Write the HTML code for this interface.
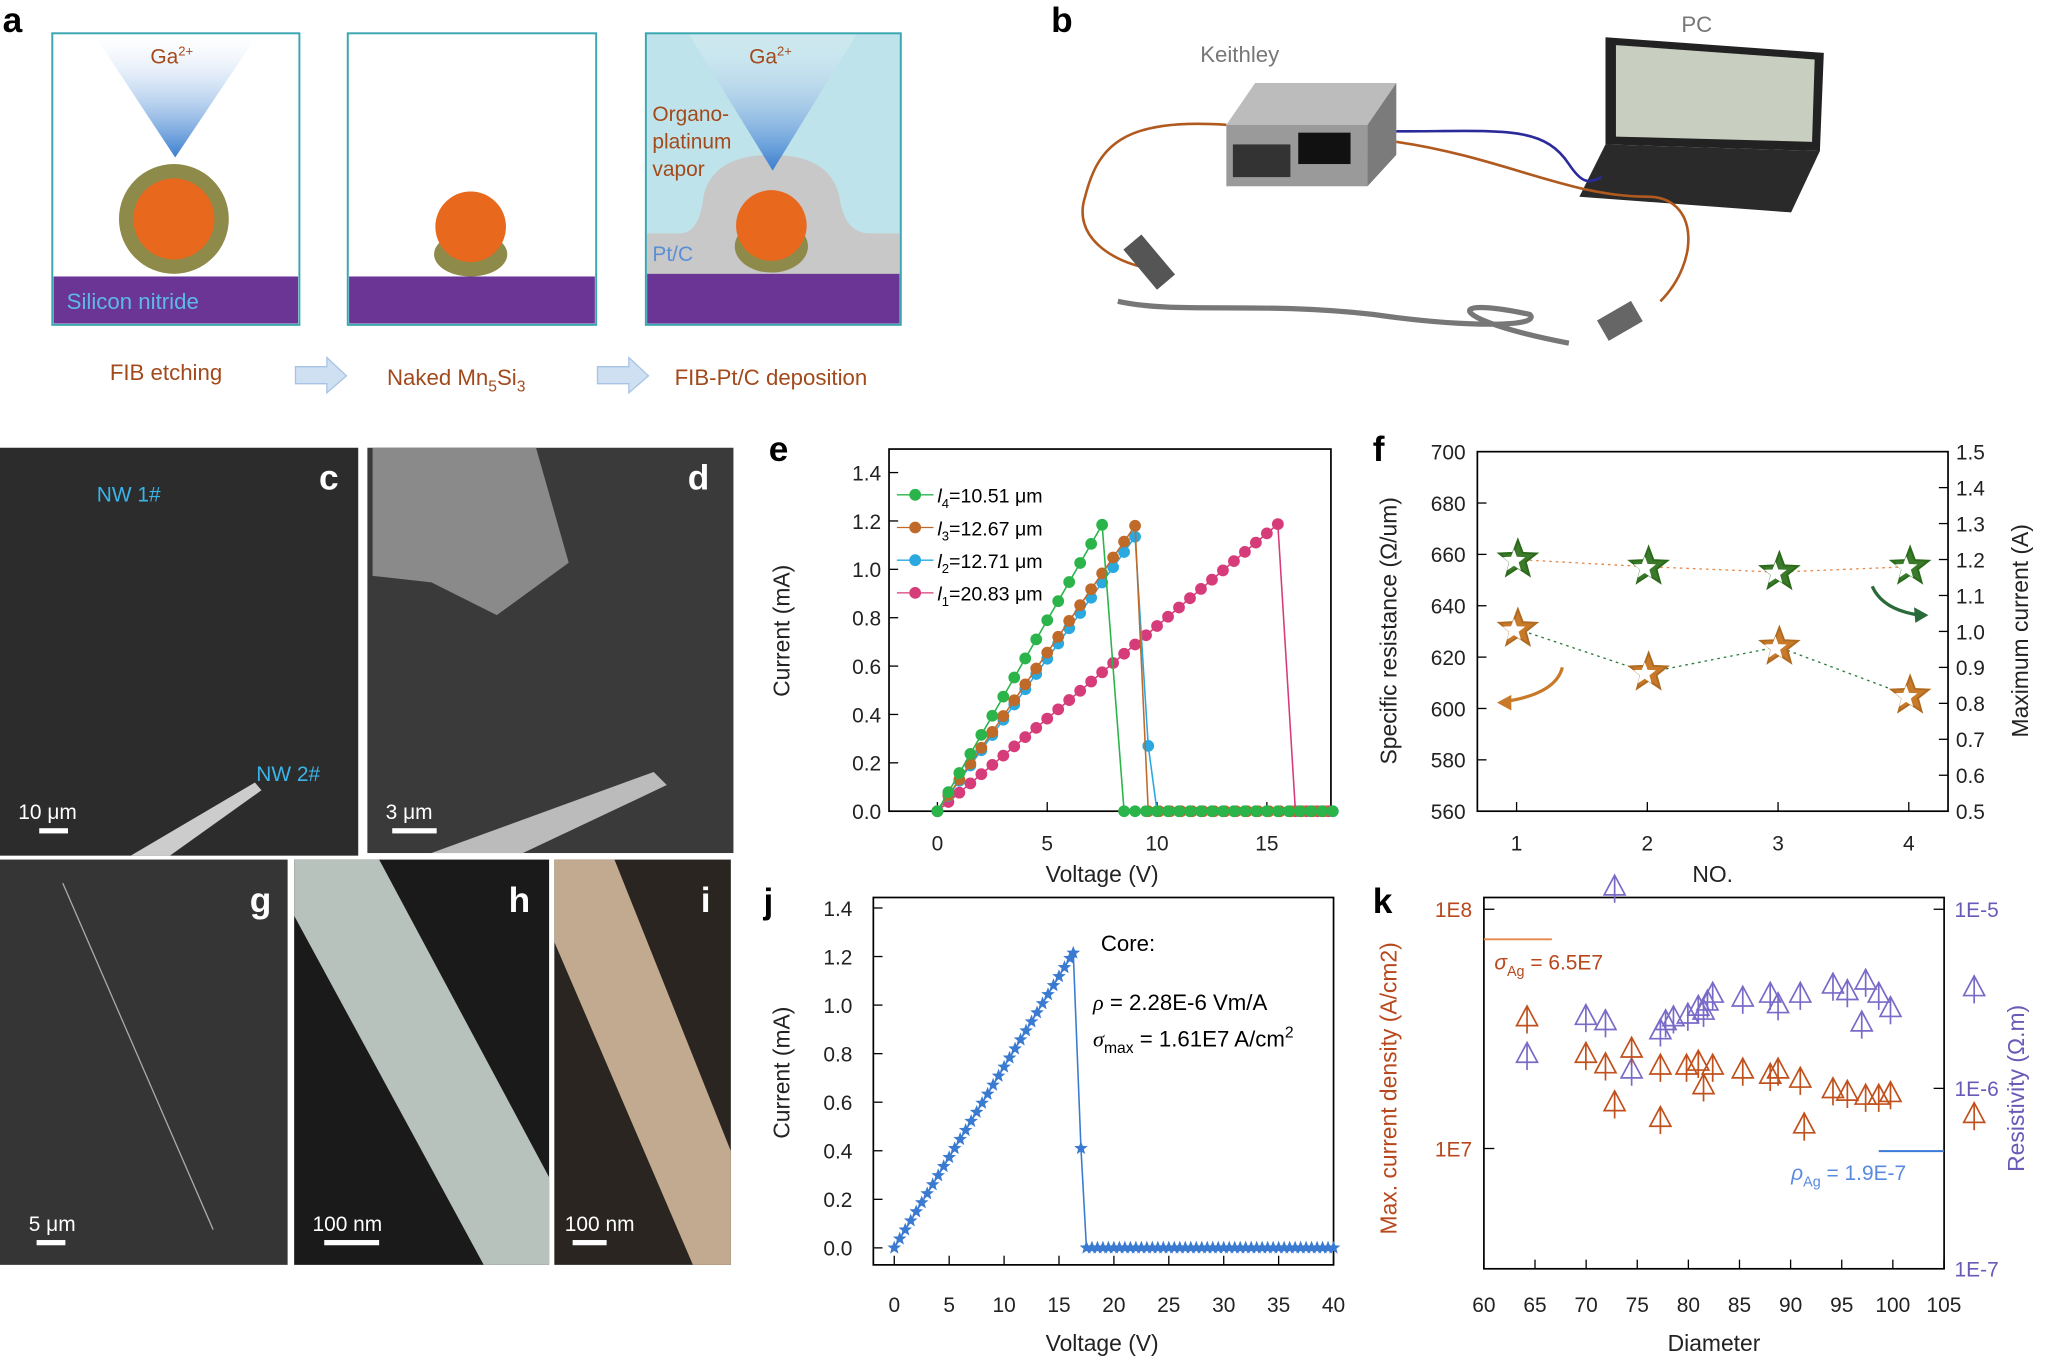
<!DOCTYPE html>
<html><head><meta charset="utf-8">
<style>
html,body{margin:0;padding:0;background:#fff;}
svg{display:block;font-family:"Liberation Sans",Arial,sans-serif;}
.t{font-size:16px;fill:#222;}
.al{font-size:17.5px;fill:#222;}
.pl{font-size:27px;font-weight:bold;fill:#000;}
.pw{font-size:27px;font-weight:bold;fill:#fff;}
</style></head><body>
<svg id="s" width="2050" height="1357" viewBox="0 0 1568 1037" xmlns="http://www.w3.org/2000/svg">
<defs>
<linearGradient id="cone" x1="0" y1="0" x2="0" y2="1"><stop offset="0" stop-color="#fff" stop-opacity="0.2"/><stop offset="1" stop-color="#3a7fd0"/></linearGradient>
</defs>
<!-- panel a -->
<text x="2" y="24" class="pl">a</text>
<rect x="40" y="25" width="189" height="223" fill="#fff" stroke="#3aa6b0" stroke-width="1.5"/>
<rect x="41" y="211" width="187" height="36" fill="#6b3595"/>
<polygon points="72,26 197,26 134,120" fill="url(#cone)"/>
<circle cx="133" cy="167" r="42" fill="#8e8a4a"/>
<circle cx="133" cy="167" r="31" fill="#e8681e"/>
<text x="115" y="48" style="font-size:16px;fill:#a24a1c">Ga<tspan dy="-6" font-size="10">2+</tspan></text>
<text x="51" y="236" style="font-size:17px;fill:#5eb8e8">Silicon nitride</text>
<rect x="266" y="25" width="190" height="223" fill="#fff" stroke="#3aa6b0" stroke-width="1.5"/>
<rect x="267" y="211" width="188" height="36" fill="#6b3595"/>
<ellipse cx="360" cy="194" rx="28" ry="17" fill="#8e8a4a"/>
<circle cx="360" cy="173" r="27" fill="#e8681e"/>
<rect x="494" y="25" width="195" height="223" fill="#bfe3ea" stroke="#3aa6b0" stroke-width="1.5"/>
<path d="M495,210 L495,178 L520,178 Q535,178 538,150 Q545,118 590,118 Q635,118 642,150 Q646,178 665,178 L688,178 L688,210Z" fill="#c8c8c8"/>
<rect x="495" y="209" width="193" height="38" fill="#6b3595"/>
<polygon points="527,26 655,26 591,130" fill="url(#cone)"/>
<ellipse cx="590" cy="188" rx="28" ry="20" fill="#8e8a4a"/>
<circle cx="590" cy="172" r="27" fill="#e8681e"/>
<text x="573" y="48" style="font-size:16px;fill:#a24a1c">Ga<tspan dy="-6" font-size="10">2+</tspan></text>
<text x="499" y="92" style="font-size:16px;fill:#a24a1c">Organo-</text>
<text x="499" y="113" style="font-size:16px;fill:#a24a1c">platinum</text>
<text x="499" y="134" style="font-size:16px;fill:#a24a1c">vapor</text>
<text x="499" y="199" style="font-size:16px;fill:#5a8fd8">Pt/C</text>
<text x="84" y="290" style="font-size:17px;fill:#a24a1c">FIB etching</text>
<text x="296" y="294" style="font-size:17px;fill:#a24a1c">Naked Mn<tspan dy="5" font-size="12">5</tspan><tspan dy="-5">Si</tspan><tspan dy="5" font-size="12">3</tspan></text>
<text x="516" y="294" style="font-size:17px;fill:#a24a1c">FIB-Pt/C deposition</text>
<polygon points="226,280 250,280 250,273 265,287 250,300 250,293 226,293" fill="#cfe0f2" stroke="#a8c4e4"/>
<polygon points="457,280 481,280 481,273 496,287 481,300 481,293 457,293" fill="#cfe0f2" stroke="#a8c4e4"/>
<!-- panel b -->
<text x="804" y="24" class="pl">b</text>
<text x="918" y="47" style="font-size:17px;fill:#777">Keithley</text>
<text x="1286" y="24" style="font-size:17px;fill:#777">PC</text>
<polygon points="938,95 960,63 1068,63 1046,95" fill="#bcbcbc"/>
<polygon points="1046,95 1068,63 1068,118 1046,142" fill="#7b7b7b"/>
<rect x="938" y="95" width="108" height="47" fill="#9a9a9a"/>
<rect x="993" y="101" width="40" height="24" fill="#111"/>
<rect x="943" y="110" width="44" height="25" fill="#333"/>
<polygon points="1228,28 1395,40 1392,115 1228,110" fill="#222"/>
<polygon points="1236,34 1388,45 1386,108 1236,104" fill="#c8cfc0"/>
<polygon points="1228,110 1392,115 1370,162 1208,150" fill="#2a2a2a"/>
<path d="M1068,100 C1150,100 1180,95 1200,125 1210,140 1215,140 1225,135" stroke="#2a2a9a" stroke-width="2" fill="none"/>
<path d="M938,95 C860,90 840,110 830,150 820,180 850,200 880,205" stroke="#b05a20" stroke-width="2" fill="none"/>
<path d="M1068,108 C1150,120 1200,150 1260,150 1300,150 1300,200 1270,230 1240,245" stroke="#b05a20" stroke-width="2" fill="none"/>
<path d="M855,230 C900,240 960,230 1050,240 1120,250 1180,250 1170,240 1100,225 1110,245 1200,262" stroke="#777" stroke-width="4" fill="none"/>
<rect x="870" y="180" width="18" height="40" fill="#555" transform="rotate(-40 879 200)"/>
<rect x="1230" y="230" width="18" height="30" fill="#666" transform="rotate(60 1239 245)"/>
<!-- SEM panels -->
<rect x="0" y="342" width="274" height="312" fill="#2c2c2c"/>
<rect x="281" y="342" width="280" height="310" fill="#3a3a3a"/>
<polygon points="285,342 410,342 435,430 380,470 330,445 285,440" fill="#8a8a8a"/>
<polygon points="330,652 500,590 510,600 400,652" fill="#bbb"/>
<rect x="0" y="657" width="220" height="310" fill="#353535"/>
<rect x="225" y="657" width="195" height="310" fill="#1a1a1a"/>
<polygon points="225,657 290,657 420,900 420,967 370,967 225,700" fill="#b8c2bc"/>
<rect x="424" y="657" width="135" height="310" fill="#2a2520"/>
<polygon points="424,657 470,657 559,880 559,967 530,967 424,720" fill="#c2aa90"/>
<line x1="48" y1="675" x2="163" y2="940" stroke="#aaa" stroke-width="1"/>
<polygon points="100,654 195,598 200,604 130,654" fill="#ccc"/>
<text x="244" y="374" class="pw">c</text>
<text x="526" y="374" class="pw">d</text>
<text x="191" y="697" class="pw">g</text>
<text x="389" y="697" class="pw">h</text>
<text x="536" y="697" class="pw">i</text>
<text x="74" y="383" style="font-size:16px;fill:#3ab4e8">NW 1#</text>
<text x="196" y="597" style="font-size:16px;fill:#3ab4e8">NW 2#</text>
<text x="14" y="626" style="font-size:16px;fill:#fff">10 μm</text><rect x="30" y="633" width="22" height="4" fill="#fff"/>
<text x="295" y="626" style="font-size:16px;fill:#fff">3 μm</text><rect x="300" y="633" width="34" height="4" fill="#fff"/>
<text x="22" y="941" style="font-size:16px;fill:#fff">5 μm</text><rect x="28" y="948" width="22" height="4" fill="#fff"/>
<text x="239" y="941" style="font-size:16px;fill:#fff">100 nm</text><rect x="248" y="948" width="42" height="4" fill="#fff"/>
<text x="432" y="941" style="font-size:16px;fill:#fff">100 nm</text><rect x="438" y="948" width="26" height="4" fill="#fff"/>
<!-- panel e -->
<text x="588" y="352" class="pl">e</text>
<rect x="680" y="343" width="338" height="277" fill="none" stroke="#000" stroke-width="1.3"/>
<g id="eg"></g>
<text class="al" transform="translate(604,482) rotate(-90)" text-anchor="middle">Current (mA)</text>
<text x="843" y="674" class="al" text-anchor="middle">Voltage (V)</text>
<!-- panel f -->
<text x="1050" y="352" class="pl">f</text>
<rect x="1130" y="345" width="360" height="275" fill="none" stroke="#000" stroke-width="1.3"/>
<g id="fg"></g>
<text class="al" transform="translate(1068,482) rotate(-90)" text-anchor="middle">Specific resistance (Ω/um)</text>
<text class="al" transform="translate(1551,482) rotate(-90)" text-anchor="middle">Maximum current (A)</text>
<text x="1310" y="674" class="al" text-anchor="middle">NO.</text>
<!-- panel j -->
<text x="584" y="698" class="pl">j</text>
<rect x="668" y="686" width="352" height="281" fill="none" stroke="#000" stroke-width="1.3"/>
<g id="jg"></g>
<text class="al" transform="translate(604,820) rotate(-90)" text-anchor="middle">Current (mA)</text>
<text x="843" y="1033" class="al" text-anchor="middle">Voltage (V)</text>
<text x="842" y="727" style="font-size:17px">Core:</text>
<text x="836" y="772" style="font-size:17px"><tspan font-style="italic" font-family="Liberation Serif">ρ</tspan> = 2.28E-6 Vm/A</text>
<text x="836" y="800" style="font-size:17px"><tspan font-style="italic" font-family="Liberation Serif">σ</tspan><tspan dy="5" font-size="12">max</tspan><tspan dy="-5"> = 1.61E7 A/cm</tspan><tspan dy="-7" font-size="12">2</tspan></text>
<!-- panel k -->
<text x="1050" y="698" class="pl">k</text>
<rect x="1135" y="686" width="352" height="284" fill="none" stroke="#000" stroke-width="1.3"/>
<g id="kg"></g>
<text transform="translate(1068,832) rotate(-90)" text-anchor="middle" style="font-size:17.5px;fill:#b8481c">Max. current density (A/cm2)</text>
<text transform="translate(1548,832) rotate(-90)" text-anchor="middle" style="font-size:17.5px;fill:#6a5ab8">Resistivity (Ω.m)</text>
<text x="1311" y="1033" class="al" text-anchor="middle">Diameter</text>
<line x1="1135" y1="718" x2="1187" y2="718" stroke="#e8884a" stroke-width="1.5"/>
<text x="1143" y="741" style="font-size:16px;fill:#b8481c"><tspan font-style="italic">σ</tspan><tspan dy="5" font-size="11">Ag</tspan><tspan dy="-5"> = 6.5E7</tspan></text>
<line x1="1437" y1="880" x2="1487" y2="880" stroke="#3a7ad8" stroke-width="1.5"/>
<text x="1370" y="902" style="font-size:16px;fill:#5a8ae0"><tspan font-style="italic">ρ</tspan><tspan dy="5" font-size="11">Ag</tspan><tspan dy="-5"> = 1.9E-7</tspan></text>
</svg>
<script>
const NS="http://www.w3.org/2000/svg";
function el(p,t,a,txt){const e=document.createElementNS(NS,t);for(const k in a)e.setAttribute(k,a[k]);if(txt!==undefined)e.textContent=txt;p.appendChild(e);return e;}
const eg=document.getElementById('eg');
const ex=v=>717+v*16.8, ey=i=>620-i*185;
[0,5,10,15].forEach(v=>{el(eg,'line',{x1:ex(v),y1:620,x2:ex(v),y2:613,stroke:'#000'});el(eg,'text',{x:ex(v),y:650,class:'t','text-anchor':'middle'},v);});
for(let i=0;i<=7;i++){const y=ey(i*0.2);el(eg,'line',{x1:680,y1:y,x2:687,y2:y,stroke:'#000'});el(eg,'text',{x:674,y:y+6,class:'t','text-anchor':'end'},(i*0.2).toFixed(1));}
function series(g,pts,col,r,lw){el(g,'polyline',{points:pts.map(p=>p.join(',')).join(' '),fill:'none',stroke:col,'stroke-width':lw||1.2});pts.forEach(p=>el(g,'circle',{cx:p[0],cy:p[1],r:r,fill:col}));}
function mk(vmax,imax,vdrop,mid){const a=[];for(let v=0;v<=vmax+1e-6;v+=0.5){a.push([ex(v),ey(v<0.3?0:imax*v/vmax)]);}if(mid)a.push([ex(mid[0]),ey(mid[1])]);for(let v=vdrop;v<=18;v+=0.5)a.push([ex(v),ey(0)]);return a;}
series(eg,mk(15.8,1.21,16.3),'#d63c7a',4.5);
series(eg,mk(9.2,1.16,10,[9.6,0.27]),'#2aa8e0',4.5);
series(eg,mk(9.0,1.18,9.6),'#c06a2a',4.5);
series(eg,mk(7.6,1.2,8.5),'#2ab44a',4.5);
const leg=[['#2ab44a','4','10.51'],['#c06a2a','3','12.67'],['#2aa8e0','2','12.71'],['#d63c7a','1','20.83']];
leg.forEach((l,i)=>{const y=378+i*25;el(eg,'line',{x1:686,y1:y,x2:714,y2:y,stroke:l[0]});el(eg,'circle',{cx:700,cy:y,r:4.5,fill:l[0]});const t=el(eg,'text',{x:717,y:y+6,style:'font-size:15px'});t.innerHTML='<tspan font-style="italic">l</tspan><tspan dy="4" font-size="10">'+l[1]+'</tspan><tspan dy="-4">='+l[2]+' μm</tspan>';});
const fg=document.getElementById('fg');
const fx=n=>1160+(n-1)*100, fyl=v=>620-(v-560)*275/140, fyr=v=>620-(v-0.5)*275;
[1,2,3,4].forEach(n=>{el(fg,'line',{x1:fx(n),y1:620,x2:fx(n),y2:613,stroke:'#000'});el(fg,'text',{x:fx(n),y:650,class:'t','text-anchor':'middle'},n);});
for(let v=560;v<=700;v+=20){const y=fyl(v);el(fg,'line',{x1:1130,y1:y,x2:1137,y2:y,stroke:'#000'});el(fg,'text',{x:1121,y:y+6,class:'t','text-anchor':'end'},v);}
for(let i=0;i<=10;i++){const v=0.5+i*0.1,y=fyr(v);el(fg,'line',{x1:1483,y1:y,x2:1490,y2:y,stroke:'#000'});el(fg,'text',{x:1496,y:y+6,class:'t'},v.toFixed(1));}
function star(g,cx,cy,R,fill,stroke,sw){let p=[];for(let k=0;k<10;k++){const r=k%2?R*0.42:R,a=-Math.PI/2+k*Math.PI/5;p.push((cx+r*Math.cos(a)).toFixed(1)+','+(cy+r*Math.sin(a)).toFixed(1));}el(g,'polygon',{points:p.join(' '),fill:fill,stroke:stroke,'stroke-width':sw||1.5});}
const gs=[1.2,1.18,1.165,1.18].map((v,i)=>[fx(i+1),fyr(v)]), os=[631,614,624,605].map((v,i)=>[fx(i+1),fyl(v)]);
el(fg,'polyline',{points:gs.map(p=>p.join(',')).join(' '),fill:'none',stroke:'#e8884a','stroke-dasharray':'2,3'});
el(fg,'polyline',{points:os.map(p=>p.join(',')).join(' '),fill:'none',stroke:'#2a7a3a','stroke-dasharray':'2,3'});
gs.forEach(p=>{star(fg,p[0]+1,p[1],15,'#3a7a2a','#2a6a1a');star(fg,p[0]-2,p[1]+1,9,'#fff','none',0);});
os.forEach(p=>{star(fg,p[0]+1,p[1],15,'#c87a2a','#b06a20');star(fg,p[0]-2,p[1]+1,9,'#fff','none',0);});
el(fg,'path',{d:'M1432,448 Q1440,466 1468,470',fill:'none',stroke:'#2a6a3a','stroke-width':2.5});
el(fg,'polygon',{points:'1475,470 1464,464 1465,476',fill:'#2a6a3a'});
el(fg,'path',{d:'M1195,510 Q1190,530 1152,536',fill:'none',stroke:'#c87a2a','stroke-width':2.5});
el(fg,'polygon',{points:'1145,537 1156,531 1156,543',fill:'#c87a2a'});
const jg=document.getElementById('jg');
const jx=v=>684+v*8.4, jy=i=>954-i*185.7;
for(let v=0;v<=40;v+=5){el(jg,'line',{x1:jx(v),y1:967,x2:jx(v),y2:960,stroke:'#000'});el(jg,'text',{x:jx(v),y:1003,class:'t','text-anchor':'middle'},v);}
for(let i=0;i<=7;i++){const y=jy(i*0.2);el(jg,'line',{x1:668,y1:y,x2:675,y2:y,stroke:'#000'});el(jg,'text',{x:652,y:y+6,class:'t','text-anchor':'end'},(i*0.2).toFixed(1));}
const jp=[];for(let v=0;v<=16.3;v+=0.5)jp.push([jx(v),jy(1.215*v/16.3)]);jp.push([jx(16.3),jy(1.215)]);jp.push([jx(17),jy(0.41)]);for(let v=17.5;v<=40.01;v+=0.5)jp.push([jx(v),jy(0)]);
el(jg,'polyline',{points:jp.map(p=>p.join(',')).join(' '),fill:'none',stroke:'#3a7ad0','stroke-width':1.2});
jp.forEach(p=>star(jg,p[0],p[1],5.5,'#3a7ad0','none',0));
const kg=document.getElementById('kg');
const kx=d=>1135+(d-60)*7.82;
for(let d=60;d<=105;d+=5){el(kg,'line',{x1:kx(d),y1:970,x2:kx(d),y2:963,stroke:'#000'});el(kg,'text',{x:kx(d),y:1003,class:'t','text-anchor':'middle'},d);}
[[695,'1E8'],[878,'1E7']].forEach(a=>{el(kg,'line',{x1:1135,y1:a[0],x2:1143,y2:a[0],stroke:'#000'});el(kg,'text',{x:1126,y:a[0]+6,'text-anchor':'end',style:'font-size:16px;fill:#b8481c'},a[1]);});
[[695,'1E-5'],[832,'1E-6'],[970,'1E-7']].forEach(a=>{el(kg,'line',{x1:1479,y1:a[0],x2:1487,y2:a[0],stroke:'#000'});el(kg,'text',{x:1495,y:a[0]+6,style:'font-size:16px;fill:#6a5ab8'},a[1]);});
function tri(g,x,y,c){el(g,'polygon',{points:`${x},${y-9} ${x-8},${y+6} ${x+8},${y+6}`,fill:'none',stroke:c,'stroke-width':1.3});el(g,'line',{x1:x,y1:y-9,x2:x,y2:y+12,stroke:c,'stroke-width':1.3});}
[[1168,806],[1213,777],[1228,781],[1235,678],[1248,818],[1270,788],[1274,781],[1280,778],[1291,776],[1299,770],[1303,773],[1306,766],[1310,760],[1333,763],[1354,760],[1360,768],[1377,760],[1402,753],[1413,758],[1427,750],[1424,782],[1437,760],[1446,771],[1510,755]].forEach(p=>tri(kg,p[0],p[1],'#7a6ac8'));
[[1168,778],[1213,806],[1228,814],[1235,843],[1248,802],[1270,815],[1270,855],[1290,815],[1299,812],[1303,830],[1310,815],[1333,818],[1354,822],[1360,818],[1377,825],[1380,860],[1402,833],[1413,835],[1427,838],[1437,838],[1446,836],[1510,852]].forEach(p=>tri(kg,p[0],p[1],'#c0501c'));
</script>
</body></html>
